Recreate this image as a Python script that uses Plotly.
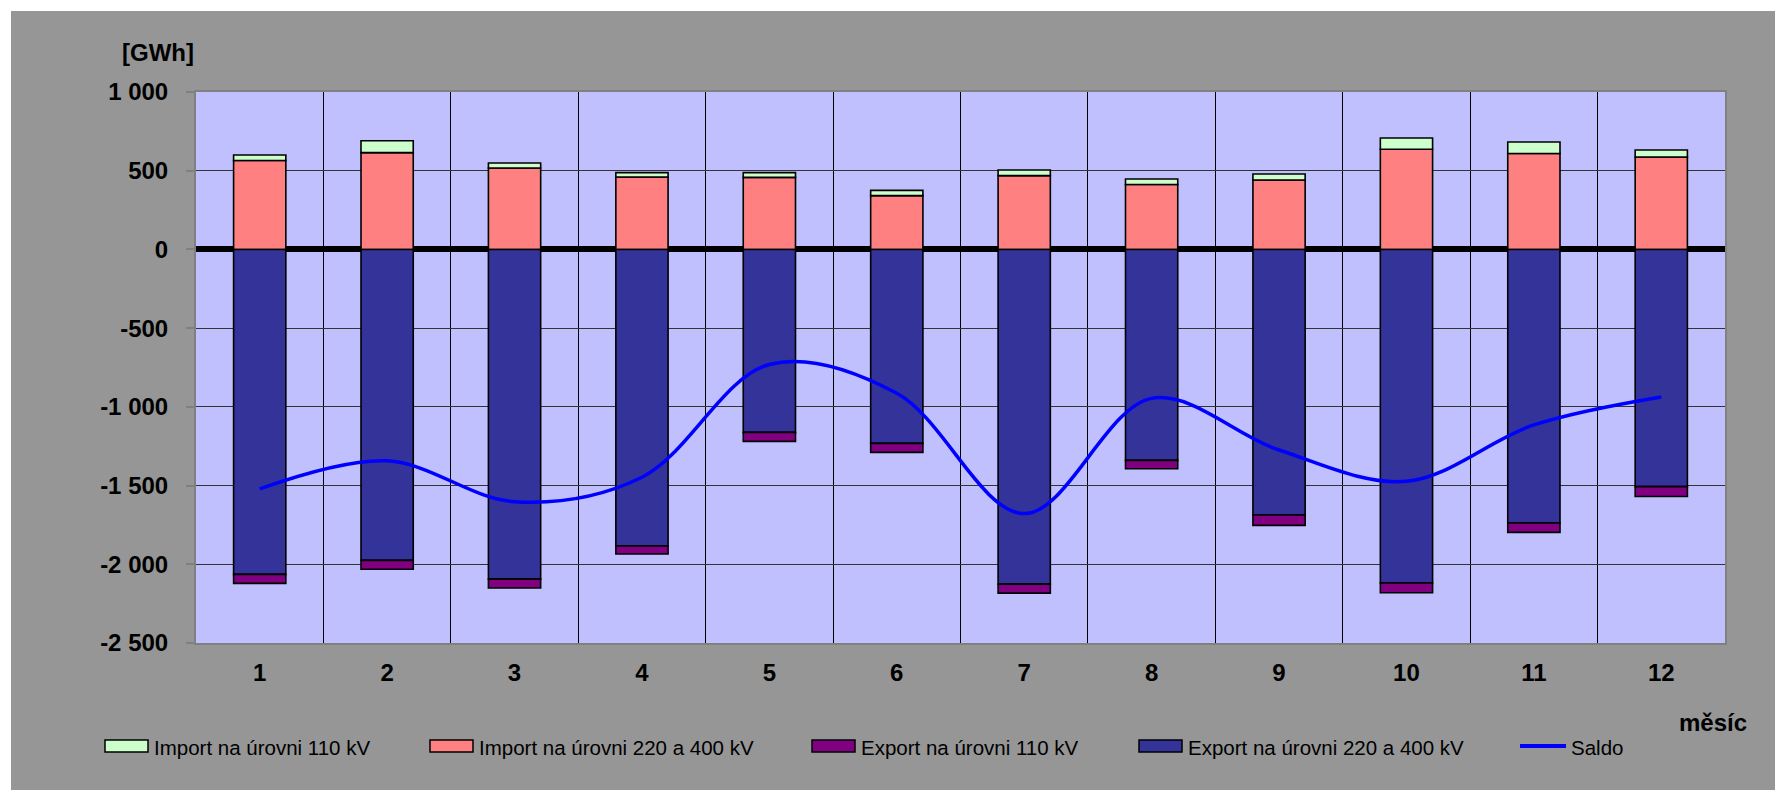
import plotly.graph_objects as go

# monthly cross-border exchange [GWh]
months = [1, 2, 3, 4, 5, 6, 7, 8, 9, 10, 11, 12]
import_110 = [35, 75, 32, 28, 30, 33, 36, 35, 38, 72, 73, 45]
import_220_400 = [565, 615, 517, 460, 458, 342, 469, 412, 441, 636, 609, 587]
export_110 = [-57, -57, -57, -51, -57, -57, -57, -53, -66, -62, -59, -62]
export_220_400 = [-2064, -1975, -2094, -1884, -1162, -1232, -2126, -1340, -1687, -2119, -1738, -1507]
saldo = [-1521, -1343, -1602, -1447, -731, -914, -1678, -946, -1274, -1473, -1115, -937]

y_tick_vals = [1000, 500, 0, -500, -1000, -1500, -2000, -2500]
y_tick_text = ["1 000", "500", "0", "-500", "-1 000", "-1 500", "-2 000", "-2 500"]

names = [
    "Import na úrovni 110 kV",
    "Import na úrovni 220 a 400 kV",
    "Export na úrovni 110 kV",
    "Export na úrovni 220 a 400 kV",
    "Saldo",
]
colors = ["#CCFFCC", "#FF8080", "#800080", "#333399", "#0000FF"]

FONT = "Liberation Sans, Arial, sans-serif"
BG_GRAY = "#969696"
PLOT_BG = "#C0C0FF"
BAR_W = 0.41
OUTLINE = dict(color = "black", width = 1.6)

# plot area in page pixels (page body adds 8px to the figure)
PLOT_L, PLOT_R, PLOT_T, PLOT_B = 196, 1725, 92, 643


def px_x(x):
    return (x - PLOT_L) / (PLOT_R - PLOT_L)


def px_y(y):
    return (PLOT_B - y) / (PLOT_B - PLOT_T)


fig = go.Figure()

# positive stack: 220/400 at the bottom, 110 on top
fig.add_trace(go.Bar(
    x = months, y = import_220_400, name = names[1],
    width = BAR_W, marker = dict(color = colors[1], line = OUTLINE)
))
fig.add_trace(go.Bar(
    x = months, y = import_110, name = names[0],
    width = BAR_W, marker = dict(color = colors[0], line = OUTLINE)
))
# negative stack: 220/400 near zero, 110 below
fig.add_trace(go.Bar(
    x = months, y = export_220_400, name = names[3],
    width = BAR_W, marker = dict(color = colors[3], line = OUTLINE)
))
fig.add_trace(go.Bar(
    x = months, y = export_110, name = names[2],
    width = BAR_W, marker = dict(color = colors[2], line = OUTLINE)
))
fig.add_trace(go.Scatter(
    x = months, y = saldo, name = names[4],
    mode = "lines", line = dict(color = colors[4], width = 3.5, shape = "spline", smoothing = 1)
))

# legend drawn Excel-style: wide swatch + label
leg_symbol_x = [105, 430, 812, 1139, 1520]
leg_y = 746
sym_w, sym_h = 43, 12
shapes = [
    # thin white frame at top and left of the picture
    dict(type = "rect", xref = "paper", yref = "paper", x0 = -0.2, x1 = 1.1, y0 = px_y(11), y1 = 1.3,
         fillcolor = "white", line = dict(width = 0), layer = "below"),
    dict(type = "rect", xref = "paper", yref = "paper", x0 = -0.2, x1 = px_x(11), y0 = -0.4, y1 = 1.3,
         fillcolor = "white", line = dict(width = 0), layer = "below"),
]
annotations = []
for i, name in enumerate(names):
    sx = leg_symbol_x[i]
    if name == "Saldo":
        shapes.append(dict(
            type = "line", xref = "paper", yref = "paper",
            x0 = px_x(sx), x1 = px_x(sx + sym_w + 3), y0 = px_y(leg_y), y1 = px_y(leg_y),
            line = dict(color = colors[i], width = 4)
        ))
        tx = sx + sym_w + 6
    else:
        shapes.append(dict(
            type = "rect", xref = "paper", yref = "paper",
            x0 = px_x(sx), x1 = px_x(sx + sym_w),
            y0 = px_y(leg_y + sym_h / 2), y1 = px_y(leg_y - sym_h / 2),
            fillcolor = colors[i], line = dict(color = "black", width = 1.5)
        ))
        tx = sx + sym_w + 4
    annotations.append(dict(
        text = name, xref = "paper", yref = "paper", x = px_x(tx), y = px_y(leg_y + 1),
        xanchor = "left", yanchor = "middle", showarrow = False,
        font = dict(family = FONT, size = 20.5, color = "black")
    ))

annotations.append(dict(
    text = "[GWh]", xref = "paper", yref = "paper", x = 0.0, y = px_y(53),
    xanchor = "right", yanchor = "middle", showarrow = False,
    font = dict(family = FONT, size = 24, weight = "bold", color = "black")
))
annotations.append(dict(
    text = "měsíc", xref = "paper", yref = "paper", x = px_x(1713), y = px_y(722),
    xanchor = "center", yanchor = "middle", showarrow = False,
    font = dict(family = FONT, size = 24, weight = "bold", color = "black")
))

fig.update_layout(
    width = 1783,
    height = 790,
    margin = dict(l = PLOT_L - 8, r = 1783 - PLOT_R + 8, t = PLOT_T - 8, b = 790 - PLOT_B + 8),
    paper_bgcolor = BG_GRAY,
    plot_bgcolor = PLOT_BG,
    barmode = "relative",
    font = dict(family = FONT, color = "black"),
    showlegend = False,
    xaxis = dict(
        range = [0.5, 12.5],
        tickvals = months,
        tickfont = dict(family = FONT, size = 24, weight = "bold", color = "black"),
        ticks = "",
        ticklabelstandoff = 7,
        showgrid = False,
        zeroline = False,
        showline = True, linecolor = "#808080", linewidth = 2, mirror = True,
        minor = dict(
            tickvals = [m + 0.5 for m in months[:-1]],
            showgrid = True, gridcolor = "black", gridwidth = 1, ticks = ""
        ),
    ),
    yaxis = dict(
        range = [-2500, 1000],
        tickvals = y_tick_vals,
        ticktext = y_tick_text,
        tickfont = dict(family = FONT, size = 24, weight = "bold", color = "black"),
        ticks = "outside", ticklen = 8, tickwidth = 2, tickcolor = "#808080",
        ticklabelstandoff = 13,
        showgrid = True, gridcolor = "#333333", gridwidth = 1,
        zeroline = True, zerolinecolor = "black", zerolinewidth = 6,
        showline = True, linecolor = "#808080", linewidth = 2, mirror = True,
    ),
    annotations = annotations,
    shapes = shapes,
)

fig.write_html("out.html")
